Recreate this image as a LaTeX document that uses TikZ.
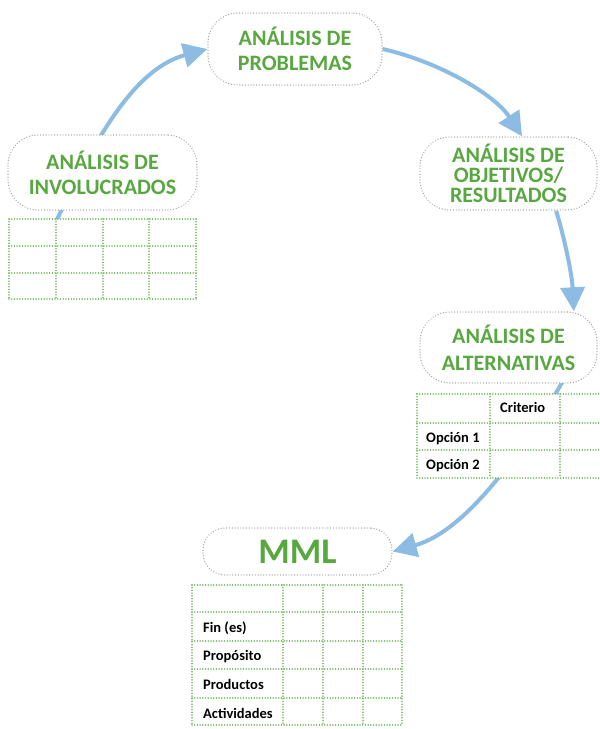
\documentclass[tikz,border=0pt]{standalone}
\usepackage{fontspec}
\setmainfont{Carlito}
\usetikzlibrary{arrows.meta,backgrounds}
\definecolor{hgreen}{RGB}{88,168,64}
\definecolor{gridgreen}{RGB}{115,185,95}
\definecolor{arrowblue}{RGB}{140,188,228}
\definecolor{boxgray}{RGB}{165,165,165}
\begin{document}
\begin{tikzpicture}[x=1pt,y=-1pt,
  bubble/.style={draw=boxgray, line width=1.4pt, line cap=round, dash pattern=on 0.01pt off 2.8pt,
    rounded corners=30pt, fill=white, inner sep=0pt, text=hgreen, align=center,
    font=\bfseries\fontsize{22}{25}\selectfont},
  tablebox/.style={fill=white, inner sep=0pt},
  cellline/.style={draw=gridgreen, line width=1.6pt, line cap=round, dash pattern=on 0.01pt off 2.7pt},
  flow/.style={draw=arrowblue, line width=4pt, -{Triangle[length=24pt,width=24pt]}},
  celltext/.style={font=\bfseries\fontsize{14.5}{16}\selectfont, anchor=base west, inner sep=0pt}]
\useasboundingbox (0,0) rectangle (600,729);

% bubbles
\node[bubble, minimum width=174pt, minimum height=72pt] (prob) at (295,49) {ANÁLISIS DE\\PROBLEMAS};
\node[bubble, minimum width=189pt, minimum height=75pt] (inv) at (102.5,172.5) {ANÁLISIS DE\\INVOLUCRADOS};
\node[bubble, minimum width=177pt, minimum height=73pt, font=\bfseries\fontsize{22}{20}\selectfont] (obj) at (508.5,173.5) {ANÁLISIS DE\\OBJETIVOS/\\RESULTADOS};
\node[bubble, minimum width=177pt, minimum height=71pt, font=\bfseries\fontsize{22}{27}\selectfont] (alt) at (508.5,347.5) {ANÁLISIS DE\\ALTERNATIVAS};
\node[bubble, rounded corners=22pt, minimum width=189pt, minimum height=47pt, font=\bfseries\fontsize{36}{36}\selectfont] (mml) at (297.5,551.5) {MML};

% tables (white ground)
\node[tablebox, minimum width=187pt, minimum height=80pt] (tinv) at (102.5,259) {};
\node[tablebox, minimum width=183pt, minimum height=84pt] (talt) at (508.5,436) {};
\node[tablebox, minimum width=210pt, minimum height=140pt] (tmml) at (297,655) {};

% grid: involucrados
\foreach \y in {219,246,273,299} \draw[cellline] (9,\y) -- (196,\y);
\foreach \x in {9,56,103,149,196} \draw[cellline] (\x,219) -- (\x,299);
% grid: alternativas
\foreach \y in {394,423,450,478} \draw[cellline] (417,\y) -- (600,\y);
\foreach \x in {417,490,560} \draw[cellline] (\x,394) -- (\x,478);
\node[celltext] (crit) at (500,412) {Criterio};
\node[celltext] (op1) at (426,442) {Opción 1};
\node[celltext] (op2) at (426,469) {Opción 2};
% grid: MML
\foreach \y in {585,612,641,669,698,725} \draw[cellline] (192,\y) -- (402,\y);
\foreach \x in {192,283,323,363,402} \draw[cellline] (\x,585) -- (\x,725);
\node[celltext] (fin) at (203,632) {Fin (es)};
\node[celltext] (prop) at (203,660) {Propósito};
\node[celltext] (prod) at (203,689) {Productos};
\node[celltext] (act) at (203,718) {Actividades};

% connectors
\coordinate (s1) at (52,230);
\coordinate (s4) at (568,372);
\begin{pgfonlayer}{background}
\draw[flow] (s1) .. controls (90,150) and (130,70) .. (prob.west);
\draw[flow] (prob.east) .. controls (440,62) and (495,95) .. (obj.70);
\draw[flow] (obj.-38) .. controls (565,240) and (572,275) .. (alt.29);
\draw[flow] (s4) .. controls (530,440) and (470,530) .. (mml.east);
\end{pgfonlayer}
\end{tikzpicture}
\end{document}
